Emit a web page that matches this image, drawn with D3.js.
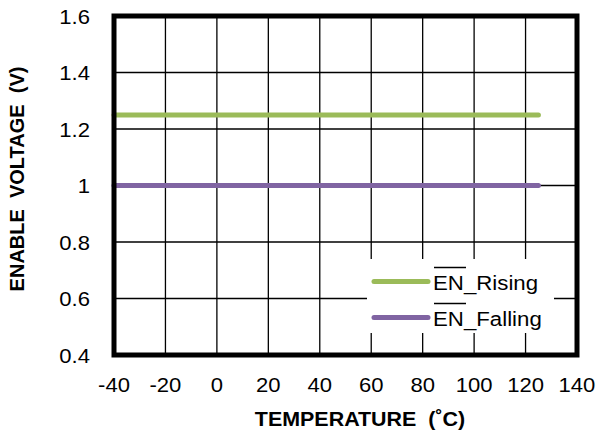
<!DOCTYPE html>
<html><head><meta charset="utf-8">
<script src="https://cdn.jsdelivr.net/npm/d3@7"></script>
<style>body{margin:0;background:#fff}svg{display:block}text{font-family:"Liberation Sans",Arial,sans-serif}</style>
</head><body><svg width="598" height="432"></svg>
<script>
const xTicks = [-40,-20,0,20,40,60,80,100,120,140];
const yTicks = [0.4,0.6,0.8,1.0,1.2,1.4,1.6];
const temps = [-40,125];
const risingValues = [1.25,1.25];
const fallingValues = [1.0,1.0];
const seriesNames = ["EN_Rising","EN_Falling"];
const seriesColors = ["#9BBB59","#8064A2"];

const svg = d3.select("svg");
const L=114, R=577, T=16, B=355;
const SX = 1.05;
const x = d3.scaleLinear().domain([-40,140]).range([L,R]);
const y = d3.scaleLinear().domain([0.4,1.6]).range([B,T]);

// grid
svg.append("g").selectAll("line").data(xTicks).join("line")
  .attr("x1",d=>x(d)).attr("x2",d=>x(d)).attr("y1",T).attr("y2",B)
  .attr("stroke","#000").attr("stroke-width",1.3);
svg.append("g").selectAll("line").data(yTicks).join("line")
  .attr("y1",d=>y(d)).attr("y2",d=>y(d)).attr("x1",L).attr("x2",R)
  .attr("stroke","#000").attr("stroke-width",1.3);

// series
const line = d3.line().x(d=>x(d[0])).y(d=>y(d[1]));
[risingValues,fallingValues].forEach((vals,i)=>{
  svg.append("path").datum(temps.map((t,j)=>[t,vals[j]]))
    .attr("d",line).attr("fill","none").attr("stroke",seriesColors[i])
    .attr("stroke-width",5).attr("stroke-linecap","round");
});

// legend
const lg = svg.append("g");
lg.append("rect").attr("x",367).attr("y",259).attr("width",187).attr("height",74).attr("fill","#fff");
seriesNames.forEach((n,i)=>{
  const yy = 281.5 + i*36;
  lg.append("line").attr("x1",374).attr("x2",428).attr("y1",yy).attr("y2",yy)
    .attr("stroke",seriesColors[i]).attr("stroke-width",5).attr("stroke-linecap","round");
  lg.append("text").attr("transform",`translate(433,${yy+8.5}) scale(1.06,1)`)
    .attr("font-size",21).attr("fill","#000").text(n);
  lg.append("line").attr("x1",434).attr("x2",466).attr("y1",yy-14).attr("y2",yy-14)
    .attr("stroke","#000").attr("stroke-width",1.5);
});

// frame
svg.append("rect").attr("x",L).attr("y",T).attr("width",R-L).attr("height",B-T)
  .attr("fill","none").attr("stroke","#000").attr("stroke-width",5);

// tick labels
svg.append("g").selectAll("text").data(xTicks).join("text")
  .attr("transform",d=>`translate(${x(d)},391.5) scale(${SX},1)`)
  .attr("text-anchor","middle").attr("font-size",21)
  .text(d=>d);
svg.append("g").selectAll("text").data(yTicks).join("text")
  .attr("transform",d=>`translate(90,${y(d)+7.5}) scale(${SX},1)`)
  .attr("text-anchor","end").attr("font-size",21)
  .text(d=>d3.format("")(d));

// titles
svg.append("text").attr("transform","translate(360,426) scale(1.1,1)").attr("text-anchor","middle")
  .attr("font-size",19.5).attr("font-weight","bold").attr("xml:space","preserve").text("TEMPERATURE  (˚C)");
svg.append("text").attr("transform","translate(24,179) rotate(-90)").attr("text-anchor","middle")
  .attr("font-size",20).attr("font-weight","bold").attr("xml:space","preserve").text("ENABLE  VOLTAGE  (V)");
</script></body></html>
